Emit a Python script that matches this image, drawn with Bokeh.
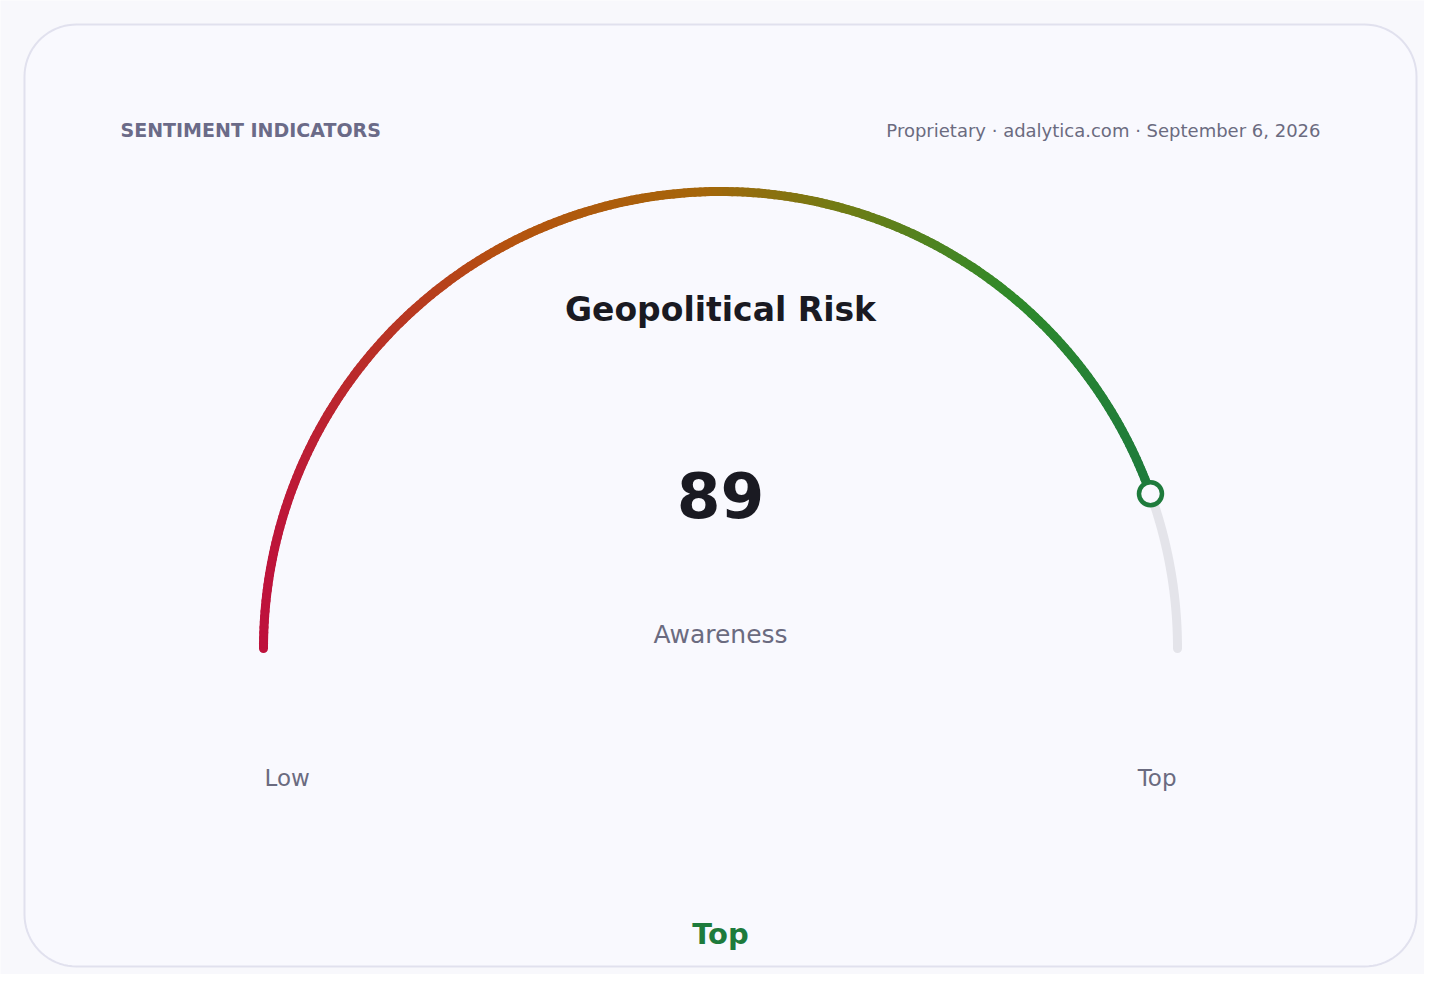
import numpy as np
from bokeh.plotting import figure
from bokeh.models import Range1d
from bokeh.core.properties import value as V
from bokeh.embed import file_html
from bokeh.resources import INLINE

# ---- data ----
gauge_value = 89
gauge_min = 0
gauge_max = 100
title_text = ["Geopolitical Risk"]
subtitle_text = ["Awareness"]
band_labels = ["Low", "Top"]
status_label = ["Top"]
header_left = ["SENTIMENT INDICATORS"]
header_right = ["Proprietary \u00b7 adalytica.com \u00b7 September 6, 2026"]

# gradient stops (fraction along coloured arc in x, colour)
grad_pos = [0.0, 0.28, 0.5, 0.66, 0.85, 1.0]
grad_col = ["#be123c", "#b4530f", "#a5660a", "#6f7c15", "#2f8a2b", "#1e7b3c"]

W, H = 1424, 974
BG = "#f8f8fc"
CARD = "#f9f9fe"
FONT = "DejaVu Sans"

p = figure(width=W, height=H, output_backend="svg", toolbar_location=None,
           x_range=Range1d(0, W), y_range=Range1d(H, 0), min_border=0)
p.axis.visible = False
p.grid.visible = False
p.outline_line_color = None
p.background_fill_color = BG
p.border_fill_color = BG

# ---- card (rounded rectangle) ----
L, R, T, B, rad = 24, 1416, 24, 966, 52
cx_, cy_ = [], []
for (ccx, ccy, a0) in [(R - rad, T + rad, -90), (R - rad, B - rad, 0), (L + rad, B - rad, 90), (L + rad, T + rad, 180)]:
    ang = np.radians(np.linspace(a0, a0 + 90, 20))
    cx_.extend(ccx + rad * np.cos(ang))
    cy_.extend(ccy + rad * np.sin(ang))
p.patch(cx_, cy_, fill_color=CARD, line_color="#e1e1ee", line_width=2)

# ---- gauge ----
gcx, gcy, gr = 720, 648, 457
def theta(v):
    return np.pi * (1 - (v - gauge_min) / (gauge_max - gauge_min))

# grey track (value -> max)
tt = np.linspace(theta(gauge_value), theta(gauge_max), 60)
p.line(gcx + gr * np.cos(tt), gcy - gr * np.sin(tt), line_color="#e4e4ea",
       line_width=9, line_cap="round")

# coloured arc (min -> value)
def hex2rgb(h):
    return np.array([int(h[i:i + 2], 16) for i in (1, 3, 5)], dtype=float)
stops = [hex2rgb(c) for c in grad_col]
def color_at(t):
    t = min(max(t, 0), 1)
    for i in range(len(grad_pos) - 1):
        if grad_pos[i] <= t <= grad_pos[i + 1]:
            f = (t - grad_pos[i]) / (grad_pos[i + 1] - grad_pos[i])
            c = stops[i] * (1 - f) + stops[i + 1] * f
            return "#%02x%02x%02x" % tuple(int(round(x)) for x in c)
    return grad_col[-1]

N = 240
ang = np.linspace(theta(gauge_min), theta(gauge_value), N + 1)
xs = gcx + gr * np.cos(ang)
ys = gcy - gr * np.sin(ang)
x0, x1 = xs[0], xs[-1]
cols = [color_at(((xs[i] + xs[i + 1]) / 2 - x0) / (x1 - x0)) for i in range(N)]
p.segment(xs[:-1], ys[:-1], xs[1:], ys[1:], line_color=cols, line_width=9, line_cap="round")

# value marker
p.scatter([xs[-1]], [ys[-1]], size=23, fill_color=CARD, line_color="#1e7b3c", line_width=4.5)

# ---- texts ----
def txt(x, base, t, size, color, align="center", bold=False):
    # base = wanted baseline; the svg text sits ~0.41em below the given y
    y = base - 0.41 * size
    p.text(x=[x], y=[y], text=t, text_font=V(FONT), text_font_size=f"{size}px",
           text_color=color, text_align=align, text_baseline="alphabetic",
           text_font_style="bold" if bold else "normal")

txt(120, 137, header_left, 19, "#6b6b88", "left", True)
txt(1320, 137, header_right, 18, "#6b6b80", "right")
txt(gcx, 323, title_text, 33, "#1a1a22", "center", True)
txt(gcx, 520, [str(gauge_value)], 63, "#1a1a22", "center", True)
txt(gcx, 644, subtitle_text, 25, "#6b6b80", "center")
txt(gcx - gr + 1, 787, [band_labels[0]], 23, "#6b6b80", "left")
txt(gcx + gr - 1, 787, [band_labels[1]], 23, "#6b6b80", "right")
txt(gcx, 945, status_label, 29, "#1e7b3c", "center", True)

open("out.html", "w").write(file_html(p, INLINE))
